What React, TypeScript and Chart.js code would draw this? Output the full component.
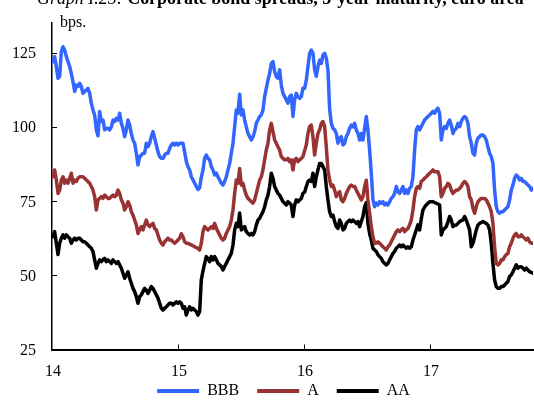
import { useEffect, useRef } from "react";
import { Chart, registerables } from "chart.js";

Chart.register(...registerables);

// Spreads in basis points, sampled roughly every 5 days from early January 2014
const bbb = [
  122, 123.7, 120.3, 116.4, 117, 125.4, 127, 125.9, 123.7, 122,
  120.3, 118, 115.2, 111.9, 114.1, 113.6, 114.7, 113.6, 111.3, 111.9,
  112.4, 113, 111.3, 108, 105.7, 104, 99, 97, 105.2, 101.8,
  102.3, 99, 99.5, 99.5, 99, 100, 102.3, 101.8, 102.9, 102.3,
  104.6, 101.2, 99.5, 96.7, 99, 102.3, 100.6, 97.8, 95.6, 94.5,
  91.1, 87.2, 90, 90.5, 91.1, 91.1, 94.5, 93.3, 94.5, 96.7,
  98.4, 96.2, 93.9, 91.6, 90, 89.4, 89.4, 90.5, 91.1, 91.1,
  92.8, 93.9, 94.5, 93.9, 94.5, 93.9, 94.5, 94.5,
  94.5, 91.6, 88.3, 86.6, 85.5, 83.2, 82.1, 81, 79.9, 78.9,
  79.5, 83, 85.5, 89.4, 90.5, 89.4, 88.9, 86.6, 85.5, 83.8,
  84.4, 83.2, 82.1, 81, 80.4, 81.6, 83.2, 85.5, 87.7, 91.1,
  94.5, 100, 105.7, 104.6, 111, 104, 105.7, 102.3, 100, 97.8,
  96.7, 95.6, 96.7, 98.4, 101.2, 102.3, 103.5, 104, 105.7, 110.2,
  113, 115.8, 118, 121.4, 122, 118.6, 116.9, 116.4, 119.2, 114.1,
  111.3, 110.2, 109.1, 108, 110.2, 110.7, 103.5, 109.1, 111.3, 110.2,
  109.6, 110.2, 113, 113,
  115.8, 120.3, 124.8, 125.9, 124.8, 119.2, 117, 120.3, 122.5, 121.4,
  124.2, 124.8, 123.1, 119.2, 106, 101.2, 99.5, 99, 97.8, 94.5,
  96.2, 96.7, 93.9, 94.5, 96.7, 97.8, 99.5, 100.6, 100, 101.2,
  99, 97.8, 95.6, 97.8, 95.6, 99.5, 103.5, 99, 92.2, 84.4,
  75.4, 73.1, 74.3, 73.7, 74.8, 74.3, 74.8, 73.7, 74.3, 73.7,
  74.8, 75.9, 76.5, 77.6, 79.9, 78.2, 77.6, 78.7, 79.9, 77.6,
  78.7, 77.6, 79.3, 79.9, 83.2, 92.2, 99, 100.1,
  99, 100.1, 101.2, 102.3, 102.9, 103.5, 104, 104.6, 105.2, 104.6,
  105.7, 106.3, 104.6, 95.6, 99, 100.1, 99.5, 101.2, 102.3, 100.6,
  97.8, 99, 99.5, 101.2, 100.1, 101.8, 102.9, 103.5, 102.9, 101.2,
  96.7, 94.5, 91.1, 90.5, 94.5, 96.2, 96.7, 97.3, 97.3, 96.7,
  95.6, 93.3, 91.1, 90, 87.7, 78.7, 73.1, 71.4, 70.9, 71.4,
  71.4, 72, 72.6, 73.1, 75.4, 78.7, 80.4, 82.7, 83.8, 83.2,
  82.1, 82.7, 81.6, 81.6, 81, 80.4, 79.9, 78.7, 79.3,
];

const singleA = [
  83.2, 85.5, 82.1, 77.6, 78.7, 82.1, 83.2, 81, 82.1, 81,
  82.7, 84.4, 81, 82.1, 81.6, 82.7, 83.2, 83.2, 83.2, 82.7,
  82.1, 81.6, 81, 79.9, 78.7, 76.5, 72, 75.4, 75.9, 76.5,
  75.9, 77, 76.5, 75.9, 75.9, 76.5, 77, 76.5, 77, 78.7,
  77.6, 75.4, 74.3, 72, 73.1, 74.8, 73.7, 71.4, 70.3, 68.6,
  67, 64.1, 65.3, 66.4, 65.3, 67, 68.6, 67, 66.4, 67,
  67.5, 65.8, 65.3, 63.6, 61.9, 60.8, 60.2, 61.3, 61.9, 62.5,
  61.9, 61.9, 61.3, 60.8, 61.3, 61.9, 62.5, 64,
  63, 61.3, 60.8, 60.8, 60.5, 60.2, 60, 59.6, 59.3, 59.1,
  58.5, 60.8, 64.7, 66.4, 65.8, 65.3, 65.8, 66.4, 65.8, 67.5,
  65.8, 64.7, 63.6, 62.5, 61.9, 62.5, 64.1, 65.3, 66.4, 68.6,
  72, 77.6, 82.1, 81, 86, 80.4, 81, 78.7, 77, 75.9,
  75.4, 74.8, 74.3, 75.4, 77.6, 79.9, 82.1, 83.2, 85.5, 88.9,
  92.2, 94.5, 99, 101.2, 98.4, 95.6, 94.5, 93.3, 92.2, 90,
  89.4, 88.9, 88.9, 89.4, 88.3, 88.9, 85.5, 88.9, 89.4, 88.3,
  88.9, 89.4, 90, 92,
  93.9, 97.8, 100.1, 100.6, 96.7, 90.5, 94.5, 97.8, 99, 101.2,
  101.8, 100.1, 93.3, 85.5, 82.1, 79.9, 80.4, 78.7, 76.5, 77.6,
  78.2, 75.4, 74.8, 75.9, 77.6, 78.7, 79.9, 80.4, 79.9, 79.9,
  78.7, 77.6, 76.5, 75.4, 76.5, 79.9, 82, 75.4, 70.9, 66.4,
  63, 60.8, 60.8, 61.3, 60.8, 60.2, 59.6, 59.1, 58.5, 59.6,
  60.2, 61.3, 62.5, 63.6, 64.7, 65.3, 64.7, 65.3, 65.8, 64.7,
  65.3, 65.8, 67, 68.6, 72, 76.5, 79.3, 79.9,
  79.3, 81.6, 82.1, 82.7, 83.2, 83.8, 84.4, 84.9, 85.5, 84.9,
  84.9, 84.9, 83.2, 76.5, 77.6, 79.3, 79.9, 81, 80.4, 78.7,
  77.6, 78.2, 78.7, 78.7, 79.3, 79.9, 81, 81.6, 81, 79.9,
  76.5, 75.4, 72.6, 70.9, 73.1, 74.8, 75.4, 75.9, 75.9, 75.9,
  75.4, 74.3, 73.1, 71.4, 67.5, 59.6, 54, 53.5, 54, 55.2,
  55.2, 56.3, 56.9, 57.4, 59.6, 60.8, 62.5, 63.6, 64.1, 63,
  63, 63.6, 63, 62.5, 61.9, 62.5, 61.3, 60.8, 60.8,
];

const doubleA = [
  63, 64.7, 60.8, 57, 60.8, 62.5, 63.6, 62.5, 63.6, 63,
  62.5, 60.8, 61.9, 62.5, 61.9, 62.5, 62.5, 61.9, 61.3, 61.3,
  60.8, 60.2, 59.6, 59.1, 58, 55.2, 52.4, 54, 55.2, 54.6,
  55.2, 55.7, 54.6, 55.2, 54.6, 54, 55.2, 54.6, 54, 54.6,
  53.5, 52.4, 50.7, 49, 50.1, 51.2, 49, 47.3, 45.6, 44.5,
  42.8, 40.6, 42.8, 43.4, 44.5, 45.6, 45, 43.9, 45, 46.2,
  45.6, 44.5, 43.4, 42.3, 40.6, 38.9, 38.3, 38.9, 39.4, 40,
  40.6, 40.6, 40, 40.6, 41.1, 40.6, 41.1, 40.6,
  38.9, 39.4, 36.6, 38.3, 39.4, 38.3, 38.9, 38.3, 37.8, 36.6,
  37.8, 48.5, 51.5, 54, 56.3, 55.7, 54.6, 56.3, 55.2, 56.3,
  55.2, 54, 53.5, 53, 51.8, 53, 54, 55.2, 56.3, 57.4,
  60.2, 65.3, 67.5, 66.4, 71, 65.3, 65.8, 66.4, 64.7, 64.1,
  63.6, 64.1, 63.6, 64.7, 66.9, 68.6, 69.2, 70.3, 71.4, 73.1,
  75.4, 77, 79.9, 84.4, 82.7, 79.9, 78.7, 77.6, 77, 75.9,
  74.8, 74.3, 73.7, 74.8, 74.3, 73.7, 69.8, 73.7, 75.4, 74.8,
  75.4, 75.9, 77.6, 78,
  79.9, 81.6, 82.1, 81.6, 84.4, 79.9, 83.2, 85.5, 87.7, 87.7,
  86.6, 85.5, 79.9, 75.4, 71.4, 69.8, 70.3, 68.1, 66.4, 65.8,
  68.6, 67.5, 65.3, 65.8, 67.5, 68.1, 68.6, 68.1, 68.6, 68.1,
  67.5, 68.1, 66.4, 68.1, 69.8, 73.1, 74.5, 67.5, 64.1, 61.9,
  59.1, 58.5, 58, 56.9, 56.3, 55.7, 54.6, 54, 53.5, 54,
  55.2, 56.3, 57.4, 58, 59.1, 59.6, 60.2, 59.6, 60.2, 59.6,
  59.1, 59.6, 59.1, 59.6, 61.9, 63.6, 65.3, 67,
  65.3, 69, 72, 73, 73.7, 74.3, 74.8, 74.8, 74.8, 74.5,
  74.3, 74, 73.7, 63.6, 65.3, 65.8, 66.4, 68, 69.8, 68.6,
  66.4, 66.9, 66.9, 67.5, 68.1, 68.4, 68.6, 69.8, 68.6, 67,
  65.3, 59.6, 60.8, 63, 65.3, 66.9, 67.5, 67.8, 68.1, 67.8,
  67.5, 66.9, 65.3, 60.8, 54, 48.4, 46.2, 45.6, 45.6, 46.2,
  46.2, 46.7, 47.3, 47.9, 49.6, 50.1, 51.2, 52.4, 53.5, 52.4,
  52.9, 52.9, 52.4, 51.8, 52.4, 51.8, 51.2, 51, 50.7,
];

const seriesNames = ["BBB", "A", "AA"];
const seriesColors = ["#3366ff", "#993333", "#000000"];
const xTickYears = [14, 15, 16, 17];
const yTickValues = [25, 50, 75, 100, 125];
const innerXTicks = [15, 16, 17];
const innerYTicks = [50, 75, 100, 125];
const titleLead = "Graph I.25: ";
const titleMain = "Corporate bond spreads, 5-year maturity, euro area";

// observation dates in years (14 = start of 2014), one every ~4.8 days
const dates = bbb.map((_, i) => 14 + (i + 0.6) / 75.6);

const FONT = "'Liberation Serif', 'Times New Roman', serif";

const axisDecorPlugin = {
  id: "axisDecor",
  afterDraw(chart: any) {
    const { ctx, chartArea, scales } = chart;
    ctx.save();
    ctx.strokeStyle = "#000";
    ctx.lineWidth = 1;
    ctx.beginPath();
    for (const v of innerXTicks) {
      const x = Math.round(scales.x.getPixelForValue(v)) + 0.5;
      ctx.moveTo(x, chartArea.bottom);
      ctx.lineTo(x, chartArea.bottom - 5);
    }
    for (const v of innerYTicks) {
      const y = Math.round(scales.y.getPixelForValue(v)) + 0.5;
      ctx.moveTo(chartArea.left, y);
      ctx.lineTo(chartArea.left + 5, y);
    }
    ctx.stroke();
    ctx.fillStyle = "#000";
    ctx.font = `16px ${FONT}`;
    ctx.textBaseline = "alphabetic";
    ctx.textAlign = "right";
    for (const v of yTickValues) {
      const y = scales.y.getPixelForValue(v);
      ctx.fillText(String(v), chartArea.left - 16, y + 5.5);
    }
    ctx.textAlign = "center";
    for (const v of xTickYears) {
      const x = scales.x.getPixelForValue(v);
      ctx.fillText(String(v), x + 1, chartArea.bottom + 26.5);
    }
    ctx.fillText("", 0, 0);

    // title, cut by the top edge as in the source; fitted to its span
    ctx.textAlign = "left";
    const base = 18;
    ctx.font = `italic ${base}px ${FONT}`;
    const w1 = ctx.measureText(titleLead).width;
    ctx.font = `bold ${base}px ${FONT}`;
    const w2 = ctx.measureText(titleMain).width;
    const size = (base * 487) / (w1 + w2);
    ctx.font = `italic ${size}px ${FONT}`;
    ctx.fillText(titleLead, 37, 3.5);
    const lw = ctx.measureText(titleLead).width;
    ctx.font = `bold ${size}px ${FONT}`;
    ctx.fillText(titleMain, 37 + lw, 3.5);

    ctx.font = `16px ${FONT}`;
    ctx.fillText("bps.", 60, 27);
    ctx.restore();
  },
};

export default function App() {
  const canvasRef = useRef<HTMLCanvasElement | null>(null);

  useEffect(() => {
    if (!canvasRef.current) return;
    const seriesValues = [bbb, singleA, doubleA];
    const chart = new Chart(canvasRef.current, {
      type: "line",
      data: {
        datasets: seriesNames.map((name, k) => ({
          label: name,
          data: seriesValues[k].map((v, i) => ({ x: dates[i], y: v })),
          borderColor: seriesColors[k],
          backgroundColor: seriesColors[k],
          borderWidth: 3.5,
          pointRadius: 0,
          tension: 0,
          borderJoinStyle: "round" as const,
          borderCapStyle: "round" as const,
        })),
      },
      options: {
        responsive: false,
        animation: false,
        layout: { padding: { left: 34, right: 1, top: 23, bottom: 0 } },
        plugins: {
          legend: {
            position: "bottom",
            labels: {
              boxWidth: 42,
              boxHeight: 4,
              padding: 18,
              color: "#000",
              font: { size: 16, family: FONT },
              generateLabels: (c: any) =>
                c.data.datasets.map((ds: any, i: number) => ({
                  text: ds.label,
                  fillStyle: ds.borderColor,
                  strokeStyle: ds.borderColor,
                  lineWidth: 0,
                  hidden: false,
                  datasetIndex: i,
                  fontColor: "#000",
                })),
            },
          },
          tooltip: { enabled: false },
        },
        scales: {
          x: {
            type: "linear",
            min: 14,
            max: 17.818,
            grid: { display: false, drawTicks: false },
            border: { display: true, color: "#000", width: 2 },
            ticks: { display: false },
            afterBuildTicks: (s: any) => {
              s.ticks = xTickYears.map((v) => ({ value: v }));
            },
            afterFit: (s: any) => {
              s.height = 15.5;
            },
          },
          y: {
            min: 25,
            max: 135,
            grid: { display: false, drawTicks: false },
            border: { display: true, color: "#000", width: 1.5 },
            ticks: { display: false },
            afterBuildTicks: (s: any) => {
              s.ticks = yTickValues.map((v) => ({ value: v }));
            },
            afterFit: (s: any) => {
              s.width = 18;
            },
          },
        },
      },
      plugins: [axisDecorPlugin],
    });
    return () => chart.destroy();
  }, []);

  return (
    <div
      style={{
        position: "absolute",
        left: 0,
        top: 0,
        width: 534,
        height: 401,
        overflow: "hidden",
        background: "#fff",
      }}
    >
      <canvas
        ref={canvasRef}
        width={534}
        height={409}
        style={{ position: "absolute", left: 0, top: 0, width: 534, height: 409 }}
      />
    </div>
  );
}
